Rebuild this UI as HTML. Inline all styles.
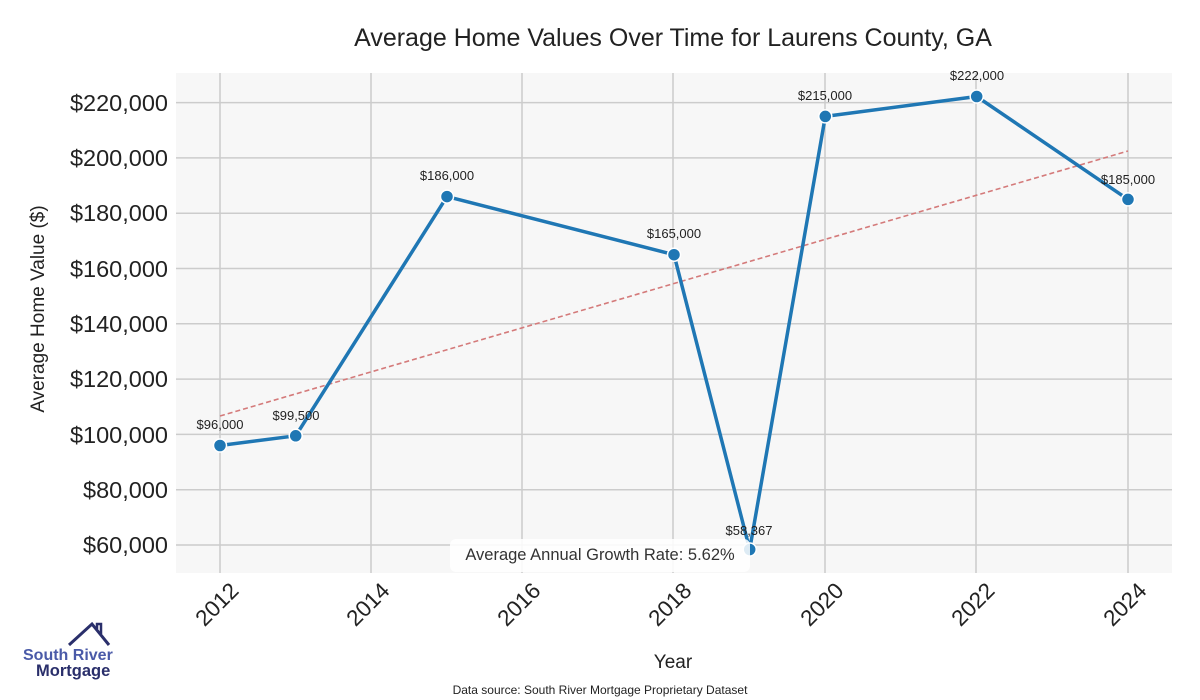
<!DOCTYPE html>
<html><head><meta charset="utf-8"><style>
body{margin:0;background:#fff;}
svg{display:block;font-family:"Liberation Sans",sans-serif;}
</style></head><body>
<svg width="1200" height="700" viewBox="0 0 1200 700">
<rect width="1200" height="700" fill="#fff"/>
<rect x="176" y="73" width="996" height="500" fill="#f7f7f7"/>
<g stroke="#cccccc" stroke-width="1.5">
<line x1="176" x2="1172" y1="102.6" y2="102.6"/>
<line x1="176" x2="1172" y1="157.9" y2="157.9"/>
<line x1="176" x2="1172" y1="213.2" y2="213.2"/>
<line x1="176" x2="1172" y1="268.5" y2="268.5"/>
<line x1="176" x2="1172" y1="323.8" y2="323.8"/>
<line x1="176" x2="1172" y1="379.1" y2="379.1"/>
<line x1="176" x2="1172" y1="434.4" y2="434.4"/>
<line x1="176" x2="1172" y1="489.7" y2="489.7"/>
<line x1="176" x2="1172" y1="545" y2="545"/>
<line x1="220" x2="220" y1="73" y2="573"/>
<line x1="371" x2="371" y1="73" y2="573"/>
<line x1="522" x2="522" y1="73" y2="573"/>
<line x1="673" x2="673" y1="73" y2="573"/>
<line x1="825" x2="825" y1="73" y2="573"/>
<line x1="976" x2="976" y1="73" y2="573"/>
<line x1="1128" x2="1128" y1="73" y2="573"/>
</g>
<line x1="220" y1="416" x2="1128" y2="151" stroke="#d47a7a" stroke-width="1.6" stroke-dasharray="5,3"/>
<polyline fill="none" stroke="#1f77b4" stroke-width="3.5" stroke-linejoin="round" points="220,445.5 295.7,435.8 447,196.6 674,254.7 749.7,549.5 825.3,116.4 976.7,96.5 1128,199.4"/>
<g fill="#1f77b4" stroke="#fff" stroke-width="1.5">
<circle cx="220" cy="445.5" r="6.5"/><circle cx="295.7" cy="435.8" r="6.5"/><circle cx="447" cy="196.6" r="6.5"/><circle cx="674" cy="254.7" r="6.5"/><circle cx="749.7" cy="549.5" r="6.5"/><circle cx="825.3" cy="116.4" r="6.5"/><circle cx="976.7" cy="96.5" r="6.5"/><circle cx="1128" cy="199.4" r="6.5"/>
</g>
<g font-size="13" fill="#222" text-anchor="middle">
<text x="220" y="429">$96,000</text>
<text x="296" y="420">$99,500</text>
<text x="447" y="180">$186,000</text>
<text x="674" y="238">$165,000</text>
<text x="749" y="535">$58,367</text>
<text x="825" y="100">$215,000</text>
<text x="977" y="80">$222,000</text>
<text x="1128" y="184">$185,000</text>
</g>
<rect x="450" y="539" width="300" height="33" rx="6" fill="#fff" fill-opacity="0.85"/>
<text x="600" y="560" font-size="16.5" fill="#333" text-anchor="middle">Average Annual Growth Rate: 5.62%</text>
<text x="673" y="46" font-size="25" fill="#222" text-anchor="middle">Average Home Values Over Time for Laurens County, GA</text>
<g font-size="23.5" fill="#222" text-anchor="end">
<text x="168" y="111">$220,000</text>
<text x="168" y="166">$200,000</text>
<text x="168" y="221">$180,000</text>
<text x="168" y="277">$160,000</text>
<text x="168" y="332">$140,000</text>
<text x="168" y="387">$120,000</text>
<text x="168" y="443">$100,000</text>
<text x="168" y="498">$80,000</text>
<text x="168" y="553">$60,000</text>
</g>
<text transform="translate(44,309) rotate(-90)" font-size="19" fill="#222" text-anchor="middle">Average Home Value ($)</text>
<g font-size="22.5" fill="#222" text-anchor="end">
<text transform="translate(240,592) rotate(-45)">2012</text>
<text transform="translate(391,592) rotate(-45)">2014</text>
<text transform="translate(542,592) rotate(-45)">2016</text>
<text transform="translate(693,592) rotate(-45)">2018</text>
<text transform="translate(845,592) rotate(-45)">2020</text>
<text transform="translate(996,592) rotate(-45)">2022</text>
<text transform="translate(1148,592) rotate(-45)">2024</text>
</g>
<text x="673" y="668" font-size="19" fill="#222" text-anchor="middle">Year</text>
<text x="600" y="694" font-size="12" fill="#222" text-anchor="middle">Data source: South River Mortgage Proprietary Dataset</text>
<polyline points="69,645 92,624 109,645" fill="none" stroke="#2a2f6b" stroke-width="3"/>
<polyline points="97,629 97,624 101,624 101,634" fill="none" stroke="#2a2f6b" stroke-width="2.5"/>
<text x="23" y="660" font-size="16" font-weight="bold" fill="#4a5aa8">South River</text>
<text x="36" y="676" font-size="16.5" font-weight="bold" fill="#2a2f6b">Mortgage</text>
</svg>
</body></html>
